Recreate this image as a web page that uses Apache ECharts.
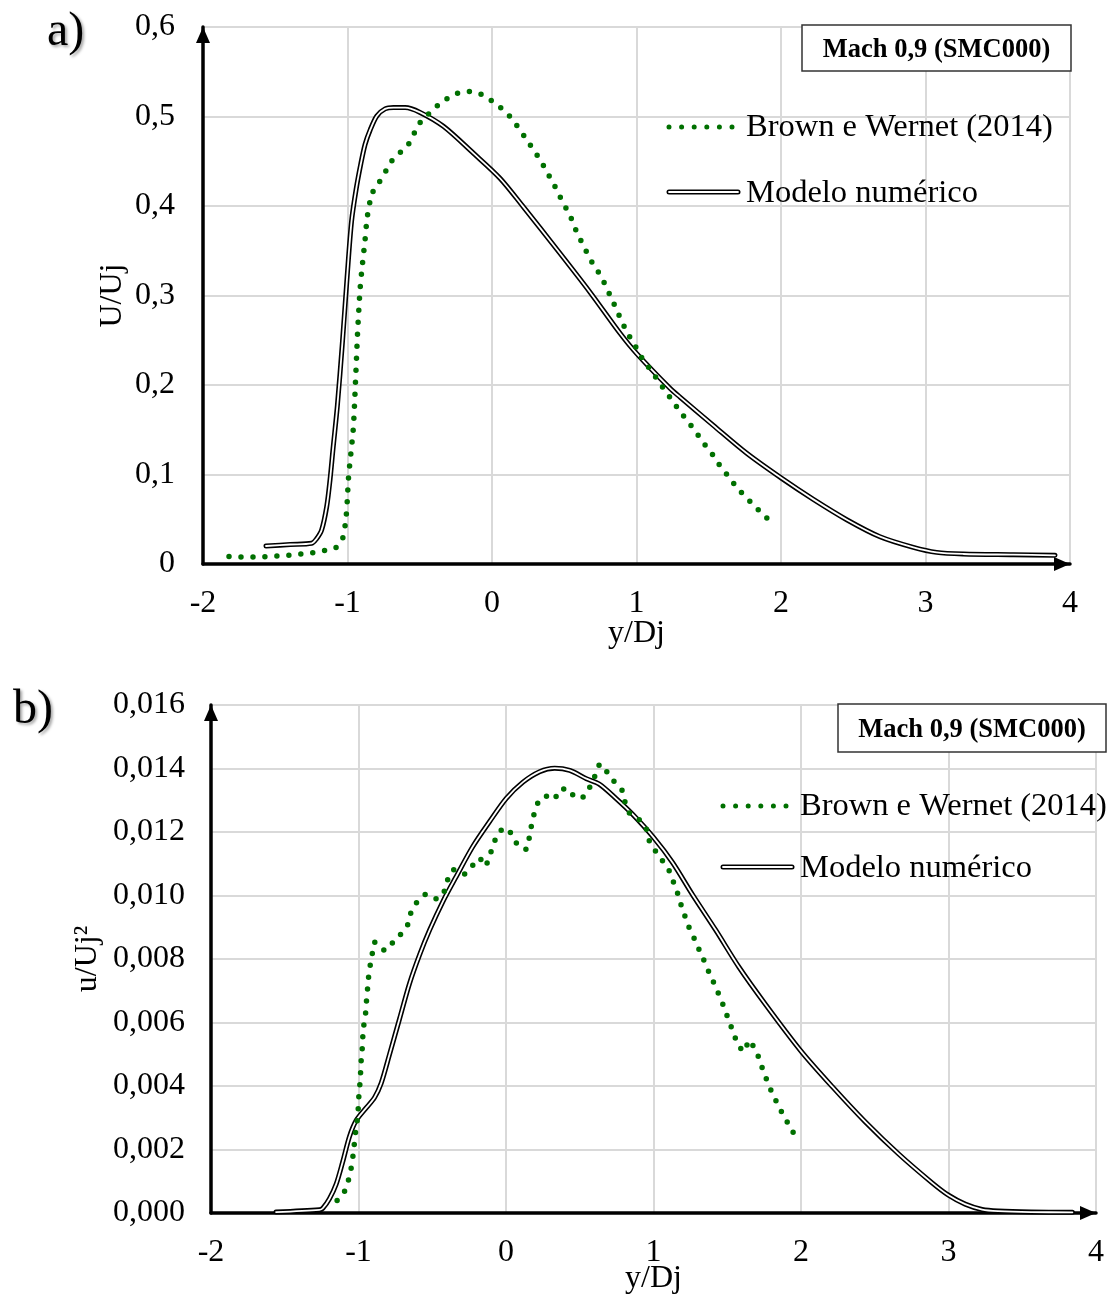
<!DOCTYPE html>
<html><head><meta charset="utf-8">
<script src="https://cdn.jsdelivr.net/npm/echarts@6/dist/echarts.min.js"></script>
<style>html,body{margin:0;padding:0;background:#fff;overflow:hidden}#c{width:1112px;height:1295px}</style>
</head><body><div id="c"></div>
<script>
const xTickLabels = ['-2','-1','0','1','2','3','4'];
const yTickLabelsA = ['0','0,1','0,2','0,3','0,4','0,5','0,6'];
const yTickLabelsB = ['0,000','0,002','0,004','0,006','0,008','0,010','0,012','0,014','0,016'];
const seriesNames = ['Brown e Wernet (2014)', 'Modelo numérico'];
const titleText = 'Mach 0,9 (SMC000)';

const brownA = [[-1.82,0.0085],[-1.737,0.0077],[-1.654,0.0078],[-1.578,0.0082],[-1.494,0.0088],[-1.41,0.0097],[-1.327,0.011],[-1.244,0.0126],[-1.161,0.0149],[-1.082,0.0182],[-1.034,0.0287],[-1.017,0.0425],[-1.008,0.0555],[-1.002,0.0695],[-0.993,0.0965],[-0.977,0.123],[-0.961,0.149],[-0.952,0.176],[-0.945,0.2026],[-0.938,0.229],[-0.931,0.256],[-0.922,0.283],[-0.912,0.309],[-0.896,0.336],[-0.878,0.363],[-0.862,0.389],[-0.829,0.414],[-0.779,0.427],[-0.735,0.439],[-0.691,0.451],[-0.634,0.46],[-0.578,0.469],[-0.539,0.481],[-0.498,0.493],[-0.438,0.503],[-0.378,0.512],[-0.311,0.52],[-0.240,0.526],[-0.159,0.528],[-0.078,0.525],[-0.007,0.518],[0.058,0.510],[0.118,0.501],[0.171,0.490],[0.219,0.479],[0.265,0.468],[0.311,0.457],[0.353,0.446],[0.394,0.434],[0.435,0.422],[0.472,0.410],[0.511,0.398],[0.546,0.387],[0.578,0.374],[0.613,0.362],[0.650,0.350],[0.689,0.338],[0.733,0.327],[0.774,0.315],[0.809,0.303],[0.843,0.291],[0.876,0.279],[0.910,0.267],[0.952,0.254],[0.991,0.2435],[1.030,0.232],[1.078,0.221],[1.127,0.210],[1.175,0.199],[1.224,0.188],[1.272,0.177],[1.320,0.1665],[1.371,0.156],[1.422,0.145],[1.470,0.134],[1.521,0.1236],[1.567,0.1124],[1.618,0.1017],[1.668,0.091],[1.721,0.0807],[1.779,0.071],[1.836,0.0616],[1.896,0.0524],[1.954,0.0433]];

const modelA = [[-1.564,0.0201],[-1.396,0.0218],[-1.248,0.0231],[-1.215,0.028],[-1.179,0.038],[-1.144,0.064],[-1.121,0.094],[-1.1,0.129],[-1.07,0.177],[-1.035,0.248],[-1.003,0.32],[-0.972,0.383],[-0.94,0.419],[-0.908,0.447],[-0.878,0.469],[-0.843,0.485],[-0.797,0.5006],[-0.74,0.5085],[-0.682,0.51],[-0.601,0.51],[-0.498,0.5046],[-0.336,0.489],[-0.129,0.459],[0.055,0.431],[0.217,0.399],[0.447,0.352],[0.677,0.304],[0.886,0.2578],[1.0,0.2354],[1.232,0.1963],[1.301,0.1865],[1.532,0.1548],[1.763,0.1237],[2.005,0.0957],[2.224,0.0722],[2.455,0.0495],[2.685,0.0305],[2.916,0.0186],[3.077,0.013],[3.262,0.0112],[3.608,0.0104],[3.896,0.0097]];

const brownB = [[-1.145,0.00039],[-1.095,0.00068],[-1.068,0.00104],[-1.05,0.00141],[-1.038,0.00178],[-1.029,0.00215],[-1.020,0.00254],[-1.009,0.0029],[-1.002,0.00328],[-0.998,0.00365],[-0.991,0.00404],[-0.986,0.00441],[-0.982,0.00479],[-0.975,0.00516],[-0.971,0.00554],[-0.964,0.00591],[-0.952,0.00629],[-0.946,0.00667],[-0.939,0.00704],[-0.932,0.00742],[-0.921,0.00779],[-0.907,0.00816],[-0.891,0.00853],[-0.860,0.00846],[-0.819,0.00826],[-0.765,0.00853],[-0.710,0.0088],[-0.663,0.00911],[-0.643,0.00948],[-0.600,0.00981],[-0.538,0.01004],[-0.468,0.00989],[-0.419,0.01013],[-0.396,0.01049],[-0.355,0.01081],[-0.287,0.01067],[-0.229,0.01093],[-0.181,0.01118],[-0.143,0.01092],[-0.111,0.01126],[-0.084,0.01161],[-0.052,0.01197],[0.002,0.01213],[0.048,0.01183],[0.093,0.01151],[0.138,0.01146],[0.158,0.01183],[0.172,0.01219],[0.190,0.01256],[0.217,0.01292],[0.269,0.01313],[0.324,0.01302],[0.364,0.01334],[0.421,0.01336],[0.473,0.01307],[0.534,0.01313],[0.572,0.01345],[0.606,0.0138],[0.640,0.01414],[0.683,0.0139],[0.731,0.0136],[0.785,0.01333],[0.805,0.01297],[0.835,0.01261],[0.896,0.01242],[0.948,0.01214],[0.964,0.0118],[1.005,0.01146],[1.05,0.01116],[1.099,0.01085],[1.129,0.0105],[1.158,0.01015],[1.181,0.00979],[1.208,0.00942],[1.235,0.00906],[1.269,0.00872],[1.302,0.00837],[1.335,0.00803],[1.366,0.00769],[1.40,0.00734],[1.431,0.00701],[1.463,0.00666],[1.492,0.0063],[1.521,0.00594],[1.549,0.00558],[1.580,0.00525],[1.618,0.00508],[1.646,0.00544],[1.686,0.00517],[1.72,0.00482],[1.745,0.00445],[1.777,0.00409],[1.808,0.00374],[1.844,0.00341],[1.88,0.00308],[1.921,0.00275],[1.962,0.00241]];

const modelB = [[-1.559,0.00003],[-1.265,0.0001],[-1.242,0.00015],[-1.197,0.00045],[-1.152,0.0009],[-1.106,0.00163],[-1.061,0.00241],[-1.016,0.00291],[-0.948,0.00331],[-0.891,0.00364],[-0.846,0.00409],[-0.790,0.00499],[-0.722,0.00611],[-0.654,0.00723],[-0.586,0.00813],[-0.518,0.00891],[-0.428,0.00981],[-0.337,0.0106],[-0.224,0.01155],[-0.111,0.01233],[0.002,0.01306],[0.115,0.01357],[0.228,0.0139],[0.330,0.01401],[0.432,0.01394],[0.545,0.01368],[0.632,0.01351],[0.745,0.01306],[0.858,0.01256],[1.0,0.01183],[1.129,0.01104],[1.264,0.01003],[1.422,0.00891],[1.58,0.00774],[1.761,0.00656],[2.0,0.0051],[2.212,0.00398],[2.438,0.00286],[2.664,0.00185],[2.889,0.00095],[3.0,0.00056],[3.113,0.00028],[3.228,0.00011],[3.339,0.00006],[3.56,0.00003],[3.84,0.00002]];

const FONT = '"Liberation Serif", "Times New Roman", serif';
const GREEN = '#007000';
const GRIDC = '#d9d9d9';

function axisLineCfg() {
  return { show: true, onZero: false, lineStyle: { color: '#000', width: 3.5 }, symbol: ['none', 'triangle'], symbolSize: [14, 16], symbolOffset: [0, -8] };
}
function xAxisCfg(gi, gap, margin) {
  return {
    type: 'value', gridIndex: gi, min: -2, max: 4, interval: 1,
    axisLine: axisLineCfg(),
    axisTick: { show: false },
    axisLabel: { fontFamily: FONT, fontSize: 32, color: '#000', margin: margin, formatter: v => xTickLabels[Math.round(v + 2)] },
    splitLine: { show: true, lineStyle: { color: GRIDC, width: 2 } },
    name: 'y/Dj', nameLocation: 'middle', nameGap: gap, nameMoveOverlap: false,
    nameTextStyle: { fontFamily: FONT, fontSize: 32, color: '#000' }
  };
}
function yAxisCfg(gi, max, interval, labels, name, gap, margin) {
  return {
    type: 'value', gridIndex: gi, min: 0, max: max, interval: interval,
    axisLine: axisLineCfg(),
    axisTick: { show: false },
    axisLabel: { fontFamily: FONT, fontSize: 32, color: '#000', margin: margin, formatter: v => labels[Math.round(v / interval)] },
    splitLine: { show: true, lineStyle: { color: GRIDC, width: 2 } },
    name: name, nameLocation: 'middle', nameGap: gap, nameMoveOverlap: false,
    nameTextStyle: { fontFamily: FONT, fontSize: 32, color: '#000' }
  };
}
function modelSeries(gi, data) {
  return [
    { name: seriesNames[1], type: 'line', xAxisIndex: gi, yAxisIndex: gi, data: data, showSymbol: false, smooth: 0.3, z: 3,
      lineStyle: { color: '#000', width: 5, cap: 'round', join: 'round' } },
    { name: seriesNames[1] + ' ', type: 'line', xAxisIndex: gi, yAxisIndex: gi, data: data, showSymbol: false, smooth: 0.3, z: 4,
      lineStyle: { color: '#fff', width: 1.8, cap: 'round', join: 'round' } }
  ];
}
function brownSeries(gi, data) {
  return { name: seriesNames[0], type: 'line', xAxisIndex: gi, yAxisIndex: gi, data: data, showSymbol: false, smooth: 0.3, z: 5,
    lineStyle: { color: GREEN, width: 5.5, type: [0, 12], cap: 'round' } };
}
function legendGraphic(x0, y1, y2, tx) {
  return [
    { type: 'line', z: 100, shape: { x1: x0 + 3, y1: y1, x2: x0 + 67, y2: y1 }, style: { stroke: GREEN, lineWidth: 5, lineDash: [0, 12.6], lineCap: 'round' } },
    { type: 'text', z: 100, left: tx, top: y1 - 16, style: { text: seriesNames[0], font: '32.5px ' + FONT, fill: '#000' } },
    { type: 'line', z: 100, shape: { x1: x0 + 3, y1: y2, x2: x0 + 72, y2: y2 }, style: { stroke: '#000', lineWidth: 5, lineCap: 'round' } },
    { type: 'line', z: 101, shape: { x1: x0 + 3, y1: y2, x2: x0 + 72, y2: y2 }, style: { stroke: '#fff', lineWidth: 1.8, lineCap: 'round' } },
    { type: 'text', z: 100, left: tx, top: y2 - 15, style: { text: seriesNames[1], font: '32.5px ' + FONT, fill: '#000' } }
  ];
}
function titleBox(x, y, w, h) {
  return [
    { type: 'rect', shape: { x: x, y: y, width: w, height: h }, style: { fill: '#fff', stroke: '#333', lineWidth: 1.5 }, z: 100 },
    { type: 'text', x: x + w / 2, y: y + h / 2 + 2, style: { text: titleText, font: 'bold 26.5px ' + FONT, fill: '#000', align: 'center', verticalAlign: 'middle' }, z: 101 }
  ];
}

const chart = echarts.init(document.getElementById('c'), null, { renderer: 'canvas' });
chart.setOption({
  backgroundColor: '#fff',
  animation: false,
  grid: [
    { left: 203, top: 27, width: 867, height: 537, containLabel: false, outerBoundsMode: 'none' },
    { left: 211, top: 705, width: 885, height: 508, containLabel: false, outerBoundsMode: 'none' }
  ],
  xAxis: [xAxisCfg(0, 54, 24), xAxisCfg(1, 50, 24)],
  yAxis: [
    yAxisCfg(0, 0.6, 0.1, yTickLabelsA, 'U/Uj', 74, 28),
    yAxisCfg(1, 0.016, 0.002, yTickLabelsB, 'u/Uj²', 107, 26)
  ],
  series: [
    ...modelSeries(0, modelA), brownSeries(0, brownA),
    ...modelSeries(1, modelB), brownSeries(1, brownB)
  ],
  graphic: [
    { type: 'text', z: 100, left: 47, top: 8, style: { text: 'a)', font: '48px ' + FONT, fill: '#000', textShadowColor: 'rgba(0,0,0,0.35)', textShadowBlur: 3, textShadowOffsetX: 2, textShadowOffsetY: 2 } },
    { type: 'text', z: 100, left: 13, top: 686, style: { text: 'b)', font: '48px ' + FONT, fill: '#000', textShadowColor: 'rgba(0,0,0,0.35)', textShadowBlur: 3, textShadowOffsetX: 2, textShadowOffsetY: 2 } },
    ...titleBox(802, 25, 269, 46),
    ...titleBox(838, 704, 268, 48),
    ...legendGraphic(666, 127, 192, 746),
    ...legendGraphic(720, 806, 867, 800)
  ]
});
</script>
</body></html>
